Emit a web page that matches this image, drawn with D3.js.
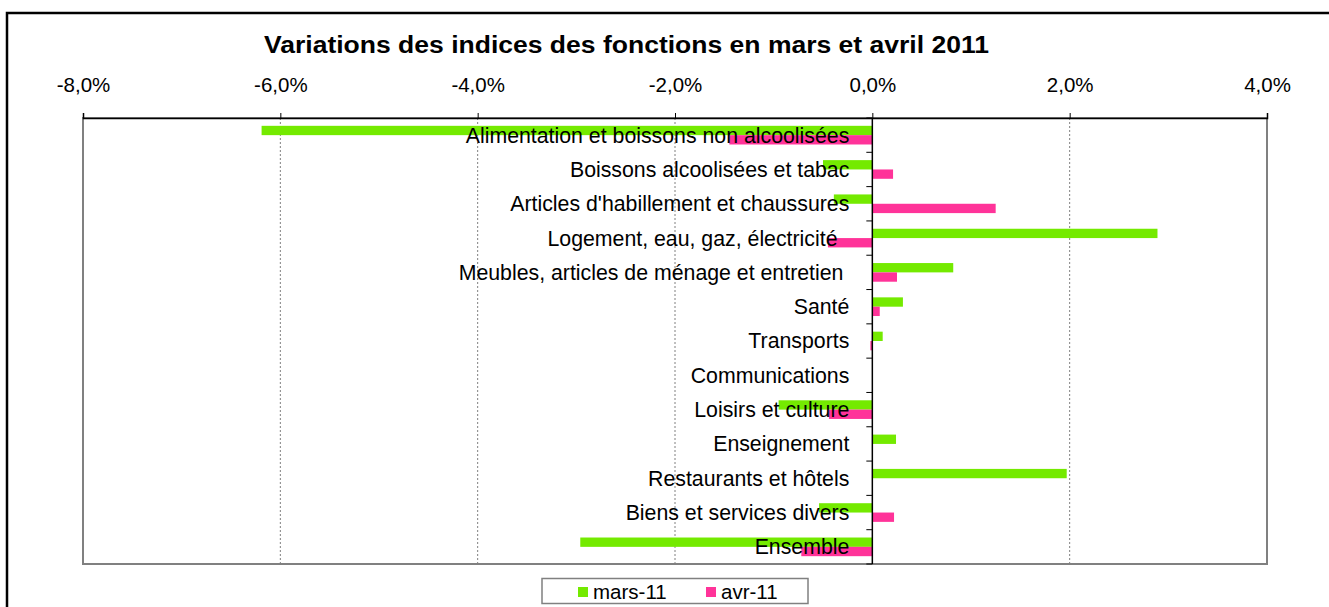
<!DOCTYPE html>
<html>
<head>
<meta charset="utf-8">
<script src="https://cdn.jsdelivr.net/npm/d3@7"></script>
<style>
  html, body { margin: 0; padding: 0; background: #fff; }
  svg { display: block; font-family: Arial, "Liberation Sans", sans-serif; }
  text { white-space: pre; }
</style>
</head>
<body>
<svg id="chart" width="1329" height="607"></svg>
<script>
// ---- data ----
const categories = [
  "Alimentation et boissons non alcoolisées",
  "Boissons alcoolisées et tabac",
  "Articles d'habillement et chaussures",
  "Logement, eau, gaz, électricité  ",
  "Meubles, articles de ménage et entretien ",
  "Santé",
  "Transports",
  "Communications",
  "Loisirs et culture",
  "Enseignement",
  "Restaurants et hôtels",
  "Biens et services divers",
  "Ensemble"
];
const seriesNames = ["mars-11", "avr-11"];
const mars11 = [-6.19, -0.50, -0.39, 2.89, 0.82, 0.31, 0.105, 0, -0.95, 0.24, 1.97, -0.54, -2.96];
const avr11  = [-1.45, 0.21, 1.25, -0.45, 0.25, 0.075, -0.02, 0, -0.44, 0, 0, 0.22, -0.72];
const tickValues = [-8, -6, -4, -2, 0, 2, 4];
const tickLabels = ["-8,0%", "-6,0%", "-4,0%", "-2,0%", "0,0%", "2,0%", "4,0%"];
const title = "Variations des indices des fonctions en mars et avril 2011";
const colors = ["#74EA00", "#FF3399"];

// ---- layout ----
const svg = d3.select("#chart");
const plot = { left: 83, right: 1267, top: 118, bottom: 564 };

svg.append("rect").attr("width", 1329).attr("height", 607).attr("fill", "#fff");
// outer chart frame (extends beyond the viewport on right/bottom)
svg.append("rect")
  .attr("x", 7).attr("y", 13).attr("width", 1340).attr("height", 620)
  .attr("fill", "none").attr("stroke", "#000").attr("stroke-width", 2.5);

// title
svg.append("text")
  .attr("x", 626.5).attr("y", 53)
  .attr("text-anchor", "middle")
  .attr("font-weight", "bold")
  .attr("font-size", 23)
  .attr("textLength", 725)
  .attr("lengthAdjust", "spacingAndGlyphs")
  .text(title);

const x = d3.scaleLinear().domain([-8, 4]).range([plot.left, plot.right]);
const y = d3.scaleBand().domain(d3.range(categories.length)).range([plot.top, plot.bottom]).padding(0);
const bw = y.bandwidth();
const barH = bw * 0.272;
const groupOff = (bw - 2 * barH) / 2;

// plot area border (gray)
svg.append("rect")
  .attr("x", plot.left).attr("y", plot.top)
  .attr("width", plot.right - plot.left).attr("height", plot.bottom - plot.top)
  .attr("fill", "none").attr("stroke", "#808080").attr("stroke-width", 2);

// gridlines (dotted)
svg.append("g").selectAll("line")
  .data(tickValues.filter(v => v !== 0 && v !== -8 && v !== 4))
  .join("line")
  .attr("x1", d => x(d)).attr("x2", d => x(d))
  .attr("y1", plot.top).attr("y2", plot.bottom)
  .attr("stroke", "#808080").attr("stroke-width", 1)
  .attr("stroke-dasharray", "2,2");

// bars
const seriesData = [mars11, avr11];
seriesData.forEach((vals, s) => {
  svg.append("g").selectAll("rect")
    .data(vals)
    .join("rect")
    .attr("x", d => x(Math.min(0, d)))
    .attr("width", d => Math.abs(x(d) - x(0)))
    .attr("y", (d, i) => y(i) + groupOff + s * barH)
    .attr("height", barH)
    .attr("fill", colors[s]);
});

// top value axis
const xAxis = d3.axisTop(x)
  .tickValues(tickValues)
  .tickFormat((d, i) => tickLabels[i])
  .tickSize(5)
  .tickPadding(21);
const gx = svg.append("g").attr("transform", `translate(0,${plot.top})`).call(xAxis);
gx.select(".domain").attr("stroke", "#000").attr("stroke-width", 1.5);
gx.selectAll(".tick line").attr("stroke", "#000").attr("stroke-width", 1);
gx.selectAll(".tick text")
  .attr("font-size", 20.5).attr("font-family", "Arial, 'Liberation Sans', sans-serif")
  .attr("fill", "#000");

// category axis at zero
const yAxisG = svg.append("g");
yAxisG.append("line")
  .attr("x1", x(0)).attr("x2", x(0))
  .attr("y1", plot.top).attr("y2", plot.bottom)
  .attr("stroke", "#000").attr("stroke-width", 1.5);
yAxisG.selectAll("line.tk")
  .data(d3.range(categories.length + 1))
  .join("line").attr("class", "tk")
  .attr("x1", x(0) - 6).attr("x2", x(0))
  .attr("y1", i => plot.top + i * bw).attr("y2", i => plot.top + i * bw)
  .attr("stroke", "#000").attr("stroke-width", 1);

// category labels
svg.append("g").selectAll("text")
  .data(categories)
  .join("text")
  .attr("x", x(0) - 23)
  .attr("y", (d, i) => y(i) + bw / 2)
  .attr("dy", "0.35em")
  .attr("text-anchor", "end")
  .attr("font-size", 21.3)
  .attr("fill", "#000")
  .text(d => d);

// legend
const lg = svg.append("g");
lg.append("rect")
  .attr("x", 542).attr("y", 578.5).attr("width", 266).attr("height", 25)
  .attr("fill", "#fff").attr("stroke", "#808080").attr("stroke-width", 1.5);
const legendX = [578, 706];
seriesNames.forEach((name, s) => {
  lg.append("rect").attr("x", legendX[s]).attr("y", 587).attr("width", 10).attr("height", 10).attr("fill", colors[s]);
  lg.append("text").attr("x", legendX[s] + 15).attr("y", 599)
    .attr("font-size", 20.5).attr("fill", "#000").text(name);
});
</script>
</body>
</html>
